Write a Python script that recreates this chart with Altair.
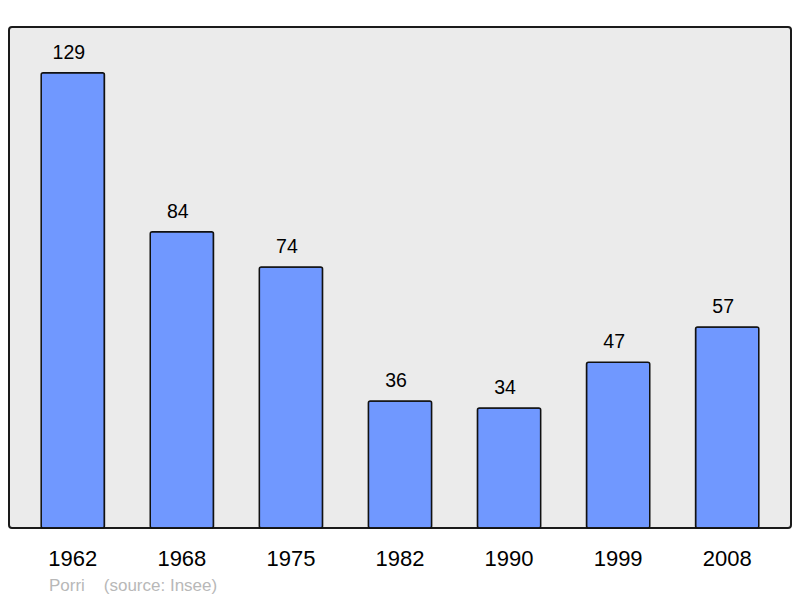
import altair as alt
import pandas as pd

years = ["1962", "1968", "1975", "1982", "1990", "1999", "2008"]
population = [129, 84, 74, 36, 34, 47, 57]

df = pd.DataFrame({"year": years, "pop": population})

FONT = "Liberation Sans"

x = alt.X("year:N", sort=years,
          scale=alt.Scale(paddingInner=0.42, paddingOuter=0.295),
          axis=alt.Axis(title=None, domain=False, ticks=False, labelAngle=0,
                        labelFontSize=22, labelFont=FONT, labelColor="#000000",
                        labelBaseline="alphabetic", labelPadding=37))
y = alt.Y("pop:Q", scale=alt.Scale(domain=[0, 142], nice=False, zero=True), axis=None)

bars = alt.Chart(df).mark_bar(
    color="#7098ff", stroke="#111111", strokeWidth=1.5, cornerRadius=2
).encode(x=x, y=y)

labels = alt.Chart(df).mark_text(
    fontSize=19.5, font=FONT, color="#000000", baseline="alphabetic", dy=-14, dx=-4
).encode(x=x, y=y, text="pop:Q")

chart = alt.layer(bars, labels).properties(
    width=782, height=501,
    autosize=alt.AutoSizeParams(type="none"),
    padding={"left": 1, "top": 19, "right": 1, "bottom": 70},
    title=alt.TitleParams(
        "Porri\u00a0\u00a0\u00a0\u00a0(source: Insee)",
        orient="bottom", anchor="start", dx=40, offset=22,
        baseline="alphabetic",
        fontSize=17, font=FONT, fontWeight="normal", color="#b8b8b8",
    ),
).configure_view(
    fill="#ebebeb", stroke="#1a1a1a", strokeWidth=2, cornerRadius=3
)

chart.save("out.html", embed_options={"renderer": "svg", "actions": False})
